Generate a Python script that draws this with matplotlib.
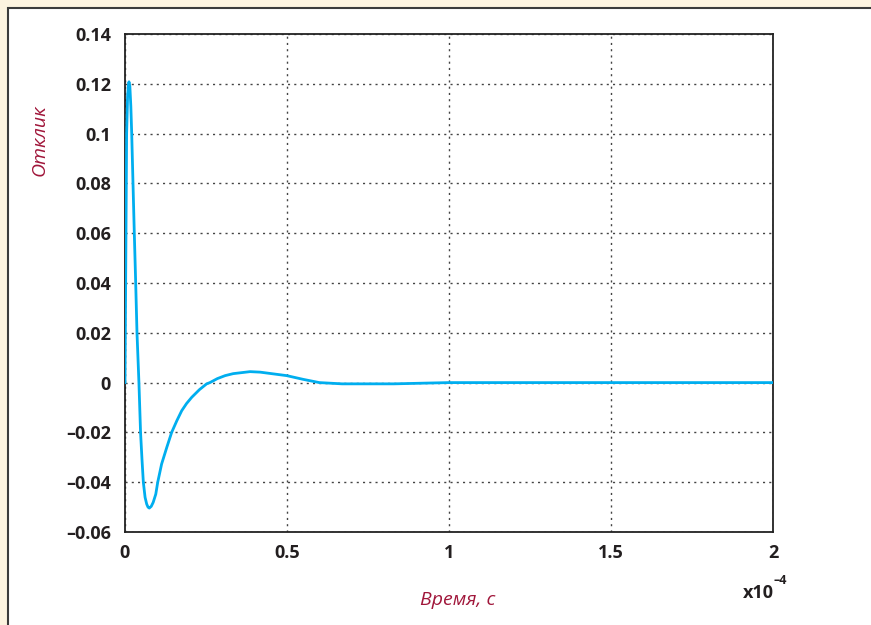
import matplotlib
matplotlib.use("Agg")
import matplotlib.pyplot as plt
from matplotlib.patches import Rectangle
from matplotlib.ticker import FuncFormatter

# time in units of 1e-4 s, response
t_scaled = [0, 0.001, 0.002, 0.003, 0.005, 0.008, 0.0105, 0.0123, 0.015, 0.018,
            0.0207, 0.0247, 0.0287, 0.033, 0.037, 0.043, 0.048, 0.0525, 0.0566,
            0.062, 0.067, 0.071, 0.075, 0.081, 0.087, 0.095, 0.101, 0.113, 0.129,
            0.144, 0.16, 0.175, 0.19, 0.206, 0.23, 0.252, 0.262, 0.285, 0.309,
            0.334, 0.386, 0.417, 0.458, 0.499, 0.55, 0.60, 0.67, 0.75, 0.83,
            0.93, 1.0, 1.5, 2.0]
response = [0, 0.02, 0.04, 0.06, 0.10, 0.115, 0.1195, 0.1208, 0.119, 0.111,
            0.10, 0.08, 0.06, 0.04, 0.02, 0.0, -0.02, -0.031, -0.04,
            -0.0461, -0.0488, -0.0500, -0.0504, -0.0497, -0.0481, -0.0448, -0.04,
            -0.0327, -0.026, -0.02, -0.0153, -0.0113, -0.0084, -0.0059, -0.0028,
            -0.0005, 0.0, 0.0016, 0.0028, 0.0036, 0.0044, 0.0042, 0.0035, 0.0028,
            0.0013, 0.0, -0.0005, -0.0005, -0.0005, -0.0002, 0.0, 0.0, 0.0]

x_ticks = [0, 0.5, 1, 1.5, 2]
y_ticks = [-0.06, -0.04, -0.02, 0, 0.02, 0.04, 0.06, 0.08, 0.1, 0.12, 0.14]

LINE = "#00aeef"
RED = "#a0163a"
DARK = "#231f20"


def fmt(v, pos):
    s = "%g" % round(v, 4)
    return s.replace("-", "\u2013")


fig = plt.figure(figsize=(8.71, 6.25), dpi=100)
fig.patch.set_facecolor("#fcf3df")

# white inner panel with a dark edge on left / top
panel = Rectangle((8 / 871, -0.1), 1.2, 1 - 8 / 625 + 0.1, transform=fig.transFigure,
                  facecolor="white", edgecolor="#3a3a3a", linewidth=1.5, zorder=-10)
fig.patches.append(panel)

ax = fig.add_axes([125 / 871, 93 / 625, 648 / 871, 498 / 625])
ax.set_zorder(5)
ax.plot(t_scaled, response, color=LINE, linewidth=2.0, zorder=3)

ax.set_xlim(0, 2)
ax.set_ylim(-0.06, 0.14)
ax.set_xticks(x_ticks)
ax.set_yticks(y_ticks)
ax.xaxis.set_major_formatter(FuncFormatter(fmt))
ax.yaxis.set_major_formatter(FuncFormatter(fmt))
ax.tick_params(length=0, labelsize=13, colors=DARK)
ax.tick_params(axis="y", pad=10)
ax.tick_params(axis="x", pad=9)
for lbl in ax.get_xticklabels() + ax.get_yticklabels():
    lbl.set_fontweight("bold")
    lbl.set_family("Open Sans")

ax.grid(True, linestyle=(0, (1.5, 3)), color="#444444", linewidth=1.0)
for sp in ax.spines.values():
    sp.set_color("#222222")
    sp.set_linewidth(1.3)

fig.text(40 / 871, 1 - 140 / 625, "Отклик", rotation=90, ha="center", va="center",
         fontsize=14, style="italic", color=RED, family="Open Sans")
fig.text(458 / 871, 1 - 600 / 625, "Время, с", ha="center", va="center",
         fontsize=14, style="italic", color=RED, family="Open Sans")
fig.text(774 / 871, 1 - 593 / 625, "x10", ha="right", va="center",
         fontsize=13, fontweight="bold", color=DARK, family="Open Sans")
fig.text(773 / 871, 1 - 580 / 625, "\u20134", ha="left", va="center",
         fontsize=9, fontweight="bold", color=DARK, family="Open Sans")

fig.savefig("out.png", dpi=100, facecolor=fig.get_facecolor())
